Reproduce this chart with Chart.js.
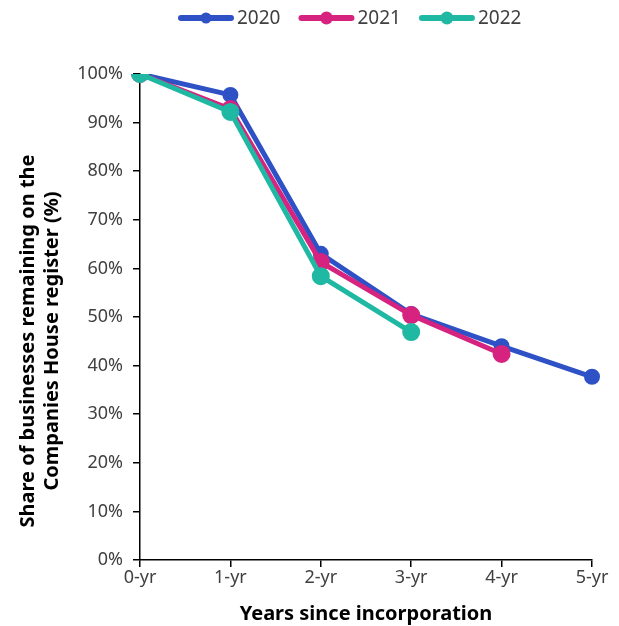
<!DOCTYPE html>
<html>
<head>
<meta charset="utf-8">
<script src="https://cdn.jsdelivr.net/npm/chart.js@4"></script>
<style>
  html, body { margin: 0; padding: 0; background: #fff; }
  #wrap { width: 619px; height: 626px; }
</style>
</head>
<body>
<div id="wrap"><canvas id="chart" width="619" height="626"></canvas></div>
<script>
// Data
const years = ['0-yr', '1-yr', '2-yr', '3-yr', '4-yr', '5-yr'];
const share2020 = [100, 95.7, 63.0, 50.6, 44.0, 37.7];
const share2021 = [100, 92.8, 61.3, 50.4, 42.4, null];
const share2022 = [100, 92.2, 58.4, 46.9, null, null];
const yTitle = ['Share of businesses remaining on the', 'Companies House register (%)'];

const FONT = 'Noto Sans';

// draw legend as line + dot like the original
const lineLegend = {
    id: 'lineLegend',
    afterDraw(chart) {
        const ctx = chart.ctx;
        const sets = chart.data.datasets;
        ctx.save();
        ctx.font = '19px "' + FONT + '"';
        ctx.textBaseline = 'middle';
        const lineW = 56, gap = 3, spacing = 18;
        let x = 178;
        const y = 18;
        sets.forEach(ds => {
            ctx.strokeStyle = ds.borderColor;
            ctx.lineWidth = 6;
            ctx.lineCap = 'round';
            ctx.beginPath();
            ctx.moveTo(x + 3, y);
            ctx.lineTo(x + lineW - 3, y);
            ctx.stroke();
            ctx.fillStyle = ds.borderColor;
            ctx.beginPath();
            ctx.arc(x + lineW / 2, y, ds.pointRadius, 0, Math.PI * 2);
            ctx.fill();
            ctx.fillStyle = '#404040';
            ctx.fillText(ds.label, x + lineW + gap, y + 1);
            x += lineW + gap + ctx.measureText(ds.label).width + spacing;
        });

        // y axis title, sits a bit below the plot centre in the original
        ctx.translate(40, 341);
        ctx.rotate(-Math.PI / 2);
        ctx.font = 'bold 20px "' + FONT + '"';
        ctx.fillStyle = '#000';
        ctx.textAlign = 'center';
        ctx.fillText(yTitle[0], 0, -12);
        ctx.fillText(yTitle[1], 0, 12);
        ctx.restore();
    }
};

const ctx = document.getElementById('chart').getContext('2d');
new Chart(ctx, {
    type: 'line',
    data: {
        labels: years,
        datasets: [
            {
                label: '2020',
                data: share2020,
                borderColor: '#2E52C6',
                backgroundColor: '#2E52C6',
                borderWidth: 5,
                pointRadius: 5.5,
                order: 3
            },
            {
                label: '2021',
                data: share2021,
                borderColor: '#D5237F',
                backgroundColor: '#D5237F',
                borderWidth: 5,
                pointRadius: 6.5,
                order: 2
            },
            {
                label: '2022',
                data: share2022,
                borderColor: '#1FB8A3',
                backgroundColor: '#1FB8A3',
                borderWidth: 5,
                pointRadius: 6.5,
                order: 1
            }
        ]
    },
    options: {
        responsive: false,
        animation: false,
        layout: { padding: { top: 74, right: 27, left: 0, bottom: 0 } },
        plugins: {
            legend: { display: false },
            tooltip: { enabled: false }
        },
        scales: {
            x: {
                offset: false,
                grid: { drawOnChartArea: false, color: '#000', tickLength: 7, lineWidth: 1.5 },
                border: { color: '#000', width: 1.5 },
                ticks: { color: '#404040', font: { family: FONT, size: 18 }, padding: 0, maxRotation: 0 },
                title: {
                    display: true,
                    text: 'Years since incorporation',
                    color: '#000',
                    font: { family: FONT, size: 20, weight: 'bold' },
                    padding: { top: 2, bottom: 0 }
                },
                afterFit(axis) { axis.height = 66; }
            },
            y: {
                min: 0,
                max: 100,
                grid: { drawOnChartArea: false, color: '#000', tickLength: 7, lineWidth: 1.5 },
                border: { color: '#000', width: 1.5 },
                ticks: {
                    stepSize: 10,
                    color: '#404040',
                    font: { family: FONT, size: 18 },
                    padding: 10,
                    callback: v => v + '%'
                },
                afterFit(axis) { axis.width = 140; }
            }
        }
    },
    plugins: [lineLegend]
});
</script>
</body>
</html>
